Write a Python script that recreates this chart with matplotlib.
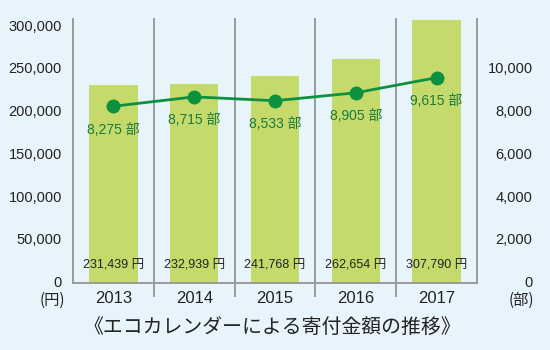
import matplotlib
matplotlib.use("Agg")
import matplotlib.pyplot as plt
import matplotlib.transforms as mtransforms

years = ["2013", "2014", "2015", "2016", "2017"]
amounts = [231439, 232939, 241768, 262654, 307790]
copies = [8275, 8715, 8533, 8905, 9615]
left_ticks = [0, 50000, 100000, 150000, 200000, 250000, 300000]
right_ticks = [0, 2000, 4000, 6000, 8000, 10000]
title = "《エコカレンダーによる寄付金額の推移》"

FAM = ["Liberation Sans", "Noto Sans CJK JP"]
plt.rcParams["font.family"] = FAM

BG = "#e8f4fc"
BAR = "#c4da6b"
GREEN = "#0b9140"
DGREEN = "#1c7a3e"
GRAY = "#9a9a9a"

fig = plt.figure(figsize=(5.5, 3.5), dpi=100, facecolor=BG)
ax = fig.add_axes([73/550, 1-283/350, 404/550, 264/350])
ax.set_facecolor(BG)
x = list(range(len(years)))
ax.bar(x, amounts, width=0.6, color=BAR, zorder=1)
ax.set_xlim(-0.5, len(years) - 0.5)
ax.set_ylim(0, 309000)
for s in ax.spines.values():
    s.set_visible(False)
ax.set_yticks(left_ticks)
ax.set_yticklabels([f"{v:,}" for v in left_ticks], fontsize=10.5, color="#222222")
ax.tick_params(axis="y", length=0, pad=8)
ax.set_xticks(x)
ax.set_xticklabels(years, fontsize=12, color="#222222")
ax.tick_params(axis="x", length=0, pad=6)

trans = mtransforms.blended_transform_factory(ax.transData, ax.transAxes)
for i in range(len(years) + 1):
    b = i - 0.5
    y0 = 0 if i in (0, len(years)) else -0.05
    ax.plot([b, b], [y0, 1], transform=trans, color=GRAY, lw=1.4, clip_on=False, zorder=3)
ax.plot([-0.5, len(years) - 0.5], [0, 0], transform=trans, color=GRAY, lw=1.4, clip_on=False, zorder=3)

for xi, a in zip(x, amounts):
    ax.text(xi, 0.068, f"{a:,} 円", transform=trans, ha="center", va="center",
            fontsize=9, color="#222222", zorder=4)

ax2 = ax.twinx()
ax2.set_ylim(0, 309000 / 25)
for s in ax2.spines.values():
    s.set_visible(False)
ax2.set_yticks(right_ticks)
ax2.set_yticklabels([f"{v:,}" for v in right_ticks], fontsize=10.5, color="#222222")
ax2.tick_params(axis="y", length=0, pad=40)
for lab in ax2.get_yticklabels():
    lab.set_horizontalalignment("right")
ax2.plot(x, copies, color=GREEN, lw=2, marker="o", markersize=9, zorder=5)
for xi, c in zip(x, copies):
    ax2.annotate(f"{c:,} 部", (xi, c), xytext=(0, -17), textcoords="offset points",
                 ha="center", va="center", fontsize=10, color=DGREEN)

# raise y tick labels slightly, as in the reference
shift = mtransforms.ScaledTranslation(0, 1.5/100, fig.dpi_scale_trans)
for lab in ax.get_yticklabels() + ax2.get_yticklabels():
    lab.set_transform(lab.get_transform() + shift)

fig.text(52/550, 1-300/350, "(円)", ha="center", va="center", fontsize=11,
         color="#222222", family=["Noto Sans CJK JP"])
fig.text(521/550, 1-300/350, "(部)", ha="center", va="center", fontsize=11,
         color="#222222", family=["Noto Sans CJK JP"])
fig.text(272/550, 1-327/350, title, ha="center", va="center", fontsize=14.3, color="#222222")

fig.savefig("out.png", dpi=100, facecolor=BG)
